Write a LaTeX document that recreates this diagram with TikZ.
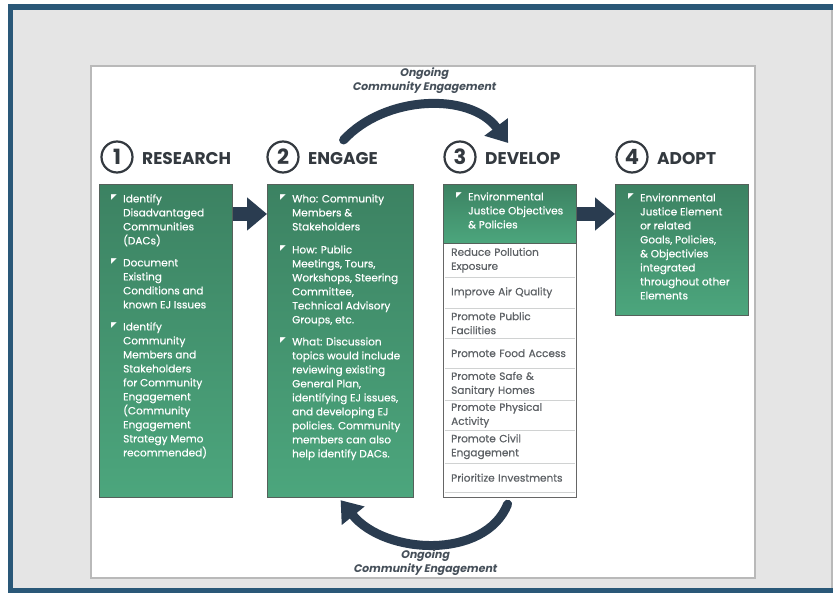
\documentclass[tikz,border=0pt]{standalone}
\usepackage{fontspec}
\setmainfont{Poppins}
\newfontfamily\bodyf{Poppins}[FakeBold=0.6]
\newfontfamily\ongof{Poppins}[BoldFeatures={FakeSlant=0.2}]
\newfontfamily\symfont{DejaVu Sans}
\usetikzlibrary{arrows.meta,calc}
\definecolor{navy}{HTML}{2A3C50}
\definecolor{frameblue}{HTML}{2A5878}
\definecolor{bggray}{HTML}{E5E5E5}
\definecolor{gtop}{HTML}{3C8262}
\definecolor{gbot}{HTML}{4CA67D}
\definecolor{gline}{HTML}{55615B}
\definecolor{listtxt}{HTML}{5E6266}
\definecolor{sepgray}{HTML}{D0D2D2}
\definecolor{hdrtxt}{HTML}{33393F}
\definecolor{ongoing}{HTML}{46505A}
\newcommand{\bodyfont}{\bodyf\fontsize{10.5}{14}\selectfont\hyphenpenalty=10000\exhyphenpenalty=10000}
\tikzset{
  gbox/.style={draw=gline, line width=1.2pt, top color=gtop, bottom color=gbot, anchor=north west, inner sep=0pt},
  itm/.style={anchor=north west, inner sep=0pt, align=left, font=\bodyfont, text=white,
    label={[font=\symfont\fontsize{7.5}{7.5}\selectfont, text=white, inner sep=0pt, anchor=north east, xshift=-6pt, yshift=-2.3pt]north west:◤}},
  row/.style={anchor=north west, minimum width=133pt, inner xsep=8pt, inner ysep=0pt, text width=117pt, align=left, font=\bodyfont, text=listtxt},
  sepline/.style={draw=sepgray, line width=1pt},
  numc/.style={circle, draw=hdrtxt, line width=2.2pt, minimum size=31pt, inner sep=0pt, font=\fontsize{21}{21}\selectfont\bfseries, text=hdrtxt},
  hdr/.style={anchor=west, inner sep=0pt, font=\fontsize{17}{17}\selectfont\bfseries, text=hdrtxt},
  bigarrow/.style={draw=navy, line width=14pt, -{Triangle[length=20pt,width=32pt]}},
  curvearrow/.style={draw=navy, line width=9pt, line cap=round, -{Triangle[length=20pt,width=28pt]}},
  ongo/.style={align=center, font=\ongof\fontsize{11}{14}\selectfont\bfseries, text=ongoing, inner sep=0pt}
}
\begin{document}
\begin{tikzpicture}[x=1pt,y=-1pt]
\useasboundingbox (0,0) rectangle (833,593);
% frame and background
\fill[white] (0,0) rectangle (833,593);
\fill[frameblue] (8,4) rectangle (833,593);
\fill[bggray] (13,10) rectangle (831,588);
\fill[gray!55] (831,10) rectangle (833,588);
\draw[draw=gray!55, line width=1.5pt, fill=white] (91,66) rectangle (755,578);

% headers
\node[numc] (n1) at (117,157) {1};
\node[hdr] (h1) at (142,158.5) {RESEARCH};
\node[numc] (n2) at (283,157) {2};
\node[hdr] (h2) at (308,158.5) {ENGAGE};
\node[numc] (n3) at (460,157) {3};
\node[hdr] (h3) at (485,158.5) {DEVELOP};
\node[numc] (n4) at (632,157) {4};
\node[hdr] (h4) at (657,158.5) {ADOPT};

% box 1
\node[gbox, minimum width=133pt, minimum height=313pt] (b1) at (99,184) {};
\node[itm] (b1i1) at (123,192.4) {\strut Identify\\Disadvantaged\\Communities\\(DACs)};
\node[itm] (b1i2) at (123,256.4) {\strut Document\\Existing\\Conditions and\\known EJ Issues};
\node[itm] (b1i3) at (123,320.4) {\strut Identify\\Community\\Members and\\Stakeholders\\for Community\\Engagement\\(Community\\Engagement\\Strategy Memo\\recommended)};

% box 2
\node[gbox, minimum width=146pt, minimum height=313pt] (b2) at (267,184) {};
\node[itm] (b2i1) at (292,192.4) {\strut Who: Community\\Members \&\\Stakeholders};
\node[itm] (b2i2) at (292,243.4) {\strut How: Public\\Meetings, Tours,\\Workshops, Steering\\Committee,\\Technical Advisory\\Groups, etc.};
\node[itm] (b2i3) at (292,335.4) {\strut What: Discussion\\topics would include\\reviewing existing\\General Plan,\\identifying EJ issues,\\and developing EJ\\policies. Community\\members can also\\help identify DACs.};

% box 3
\node[draw=gray!80!black, line width=1.2pt, fill=white, anchor=north west, minimum width=133pt, minimum height=313pt, inner sep=0pt] (b3) at (443,184) {};
\node[gbox, minimum width=133pt, minimum height=59pt] (b3h) at (443,184) {};
\node[itm] (b3i1) at (468,190.4) {\strut Environmental\\Justice Objectives\\\& Policies};
\node[row, minimum height=34pt] (r1) at (443,243) {Reduce Pollution\\Exposure};
\node[row, minimum height=31pt] (r2) at (443,277) {Improve Air Quality};
\node[row, minimum height=30pt] (r3) at (443,308) {Promote Public\\Facilities};
\node[row, minimum height=30pt] (r4) at (443,338) {Promote Food Access};
\node[row, minimum height=32pt] (r5) at (443,368) {Promote Safe \&\\Sanitary Homes};
\node[row, minimum height=30pt] (r6) at (443,400) {Promote Physical\\Activity};
\node[row, minimum height=33pt] (r7) at (443,430) {Promote Civil\\Engagement};
\node[row, minimum height=29pt] (r8) at (443,463) {Prioritize Investments};
\foreach \r in {r1,r2,r3,r4,r5,r6,r7,r8}{
  \draw[sepline] ($(\r.south west)+(1.5,0)$) -- ($(\r.south east)+(-1.5,0)$);
}

% box 4
\node[gbox, minimum width=133pt, minimum height=131pt] (b4) at (615,184) {};
\node[itm] (b4i1) at (640,191.4) {\strut Environmental\\Justice Element\\or related\\Goals, Policies,\\\& Objectivies\\integrated\\throughout other\\Elements};

% straight arrows
\coordinate (a1s) at ($(b1.north east)+(0,30)$);
\coordinate (a1e) at ($(b2.north west)+(0,30)$);
\draw[bigarrow] (a1s) -- (a1e);
\coordinate (a3s) at ($(b3.north east)+(0,30)$);
\coordinate (a3e) at ($(b4.north west)+(0,30)$);
\draw[bigarrow] (a3s) -- (a3e);

% curved arrows
\coordinate (ts) at ($(b2.north)+(3,-44)$);
\coordinate (te) at ($(b3.north)+(-2,-41)$);
\draw[curvearrow] (ts) .. controls (385,95) and (470,92) .. (te);
\coordinate (bs) at ($(b3.south)+(-2.5,6)$);
\coordinate (be) at ($(b2.south)+(0,2)$);
\draw[curvearrow] (bs) .. controls (485,560) and (385,555) .. (be);

\node[ongo] (t1) at (424,81) {Ongoing\\Community Engagement};
\node[ongo] (t2) at (425,563) {Ongoing\\Community Engagement};
\end{tikzpicture}
\end{document}
